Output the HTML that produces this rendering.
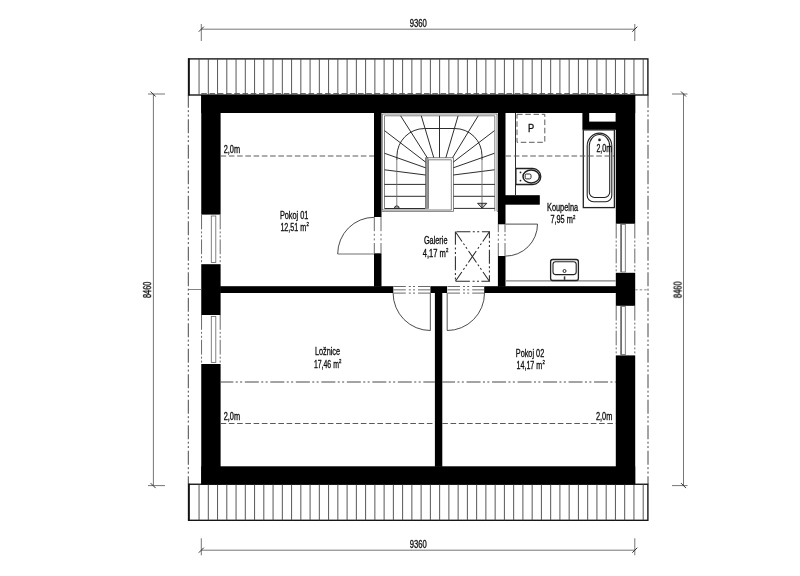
<!DOCTYPE html>
<html><head><meta charset="utf-8"><title>Floor plan</title>
<style>
html,body{margin:0;padding:0;background:#fff;}
body{width:800px;height:576px;overflow:hidden;font-family:"Liberation Sans",sans-serif;}
svg{display:block;}
svg text{font-family:"Liberation Sans",sans-serif;fill:#111;stroke:#111;stroke-width:0.34;}
#txt{opacity:0.999;}
.t{stroke:#333;stroke-width:1;fill:none;}
.s{stroke:#222;stroke-width:0.95;fill:none;}
.k{stroke:#222;stroke-width:1.3;}
.g{stroke:#6c6c6c;stroke-width:0.85;fill:none;}
.rf{stroke:#111;stroke-width:1.35;}
.rl{stroke:#444;stroke-width:0.9;}
.dash{stroke:#5a5a5a;stroke-width:1;stroke-dasharray:5.6 2.65;fill:none;}
.dash2{stroke:#666;stroke-width:0.8;stroke-dasharray:2.5 2;fill:none;}
.dd{stroke:#333;stroke-width:0.9;stroke-dasharray:14 2.4 2 2.4 2 2.7;stroke-dashoffset:1.25;fill:none;}
.ddx{stroke:#2a2a2a;stroke-width:1.05;stroke-dasharray:14 2.4 2 2.4 2 2.7;stroke-dashoffset:2.3;fill:none;}
.ddv{stroke:#555;stroke-width:0.8;stroke-dasharray:14 2.5 2.5 2.5;fill:none;}
.ddh{stroke:#555;stroke-width:0.8;stroke-dasharray:13 2 2 2 2 2;fill:none;}
.th{stroke:#6a6a6a;stroke-width:1;fill:none;}
.lf{stroke:#707070;stroke-width:1.2;fill:none;}
.arc{stroke:#2a2a2a;stroke-width:0.85;fill:none;}
.d{stroke:#666;stroke-width:0.9;}
.d2{stroke:#333;stroke-width:1;}
</style></head>
<body>
<svg width="800" height="576" viewBox="0 0 800 576">
<rect x="0" y="0" width="800" height="576" fill="#fff"/>
<g id="roof">
<rect x="188.7" y="58.9" width="459.20" height="36.10" fill="#fff" class="rf"/>
<line x1="188.80" y1="58.30" x2="188.80" y2="95.60" class="rf" style="stroke-width:1.9"/>
<line x1="199.05" y1="58.90" x2="199.05" y2="95.00" class="rl" />
<line x1="208.30" y1="58.90" x2="208.30" y2="95.00" class="rl" />
<line x1="217.56" y1="58.90" x2="217.56" y2="95.00" class="rl" />
<line x1="226.81" y1="58.90" x2="226.81" y2="95.00" class="rl" />
<line x1="236.06" y1="58.90" x2="236.06" y2="95.00" class="rl" />
<line x1="245.31" y1="58.90" x2="245.31" y2="95.00" class="rl" />
<line x1="254.57" y1="58.90" x2="254.57" y2="95.00" class="rl" />
<line x1="263.82" y1="58.90" x2="263.82" y2="95.00" class="rl" />
<line x1="273.07" y1="58.90" x2="273.07" y2="95.00" class="rl" />
<line x1="282.33" y1="58.90" x2="282.33" y2="95.00" class="rl" />
<line x1="291.58" y1="58.90" x2="291.58" y2="95.00" class="rl" />
<line x1="300.83" y1="58.90" x2="300.83" y2="95.00" class="rl" />
<line x1="310.09" y1="58.90" x2="310.09" y2="95.00" class="rl" />
<line x1="319.34" y1="58.90" x2="319.34" y2="95.00" class="rl" />
<line x1="328.59" y1="58.90" x2="328.59" y2="95.00" class="rl" />
<line x1="337.85" y1="58.90" x2="337.85" y2="95.00" class="rl" />
<line x1="347.10" y1="58.90" x2="347.10" y2="95.00" class="rl" />
<line x1="356.35" y1="58.90" x2="356.35" y2="95.00" class="rl" />
<line x1="365.60" y1="58.90" x2="365.60" y2="95.00" class="rl" />
<line x1="374.86" y1="58.90" x2="374.86" y2="95.00" class="rl" />
<line x1="384.11" y1="58.90" x2="384.11" y2="95.00" class="rl" />
<line x1="393.36" y1="58.90" x2="393.36" y2="95.00" class="rl" />
<line x1="402.62" y1="58.90" x2="402.62" y2="95.00" class="rl" />
<line x1="411.87" y1="58.90" x2="411.87" y2="95.00" class="rl" />
<line x1="421.12" y1="58.90" x2="421.12" y2="95.00" class="rl" />
<line x1="430.38" y1="58.90" x2="430.38" y2="95.00" class="rl" />
<line x1="439.63" y1="58.90" x2="439.63" y2="95.00" class="rl" />
<line x1="448.88" y1="58.90" x2="448.88" y2="95.00" class="rl" />
<line x1="458.13" y1="58.90" x2="458.13" y2="95.00" class="rl" />
<line x1="467.39" y1="58.90" x2="467.39" y2="95.00" class="rl" />
<line x1="476.64" y1="58.90" x2="476.64" y2="95.00" class="rl" />
<line x1="485.89" y1="58.90" x2="485.89" y2="95.00" class="rl" />
<line x1="495.15" y1="58.90" x2="495.15" y2="95.00" class="rl" />
<line x1="504.40" y1="58.90" x2="504.40" y2="95.00" class="rl" />
<line x1="513.65" y1="58.90" x2="513.65" y2="95.00" class="rl" />
<line x1="522.90" y1="58.90" x2="522.90" y2="95.00" class="rl" />
<line x1="532.16" y1="58.90" x2="532.16" y2="95.00" class="rl" />
<line x1="541.41" y1="58.90" x2="541.41" y2="95.00" class="rl" />
<line x1="550.66" y1="58.90" x2="550.66" y2="95.00" class="rl" />
<line x1="559.92" y1="58.90" x2="559.92" y2="95.00" class="rl" />
<line x1="569.17" y1="58.90" x2="569.17" y2="95.00" class="rl" />
<line x1="578.42" y1="58.90" x2="578.42" y2="95.00" class="rl" />
<line x1="587.68" y1="58.90" x2="587.68" y2="95.00" class="rl" />
<line x1="596.93" y1="58.90" x2="596.93" y2="95.00" class="rl" />
<line x1="606.18" y1="58.90" x2="606.18" y2="95.00" class="rl" />
<line x1="615.43" y1="58.90" x2="615.43" y2="95.00" class="rl" />
<line x1="624.69" y1="58.90" x2="624.69" y2="95.00" class="rl" />
<line x1="633.94" y1="58.90" x2="633.94" y2="95.00" class="rl" />
<line x1="643.19" y1="58.90" x2="643.19" y2="95.00" class="rl" />
<rect x="188.7" y="484.25" width="459.20" height="36.05" fill="#fff" class="rf"/>
<line x1="188.80" y1="483.65" x2="188.80" y2="520.90" class="rf" style="stroke-width:1.9"/>
<line x1="199.05" y1="484.25" x2="199.05" y2="520.30" class="rl" />
<line x1="208.30" y1="484.25" x2="208.30" y2="520.30" class="rl" />
<line x1="217.56" y1="484.25" x2="217.56" y2="520.30" class="rl" />
<line x1="226.81" y1="484.25" x2="226.81" y2="520.30" class="rl" />
<line x1="236.06" y1="484.25" x2="236.06" y2="520.30" class="rl" />
<line x1="245.31" y1="484.25" x2="245.31" y2="520.30" class="rl" />
<line x1="254.57" y1="484.25" x2="254.57" y2="520.30" class="rl" />
<line x1="263.82" y1="484.25" x2="263.82" y2="520.30" class="rl" />
<line x1="273.07" y1="484.25" x2="273.07" y2="520.30" class="rl" />
<line x1="282.33" y1="484.25" x2="282.33" y2="520.30" class="rl" />
<line x1="291.58" y1="484.25" x2="291.58" y2="520.30" class="rl" />
<line x1="300.83" y1="484.25" x2="300.83" y2="520.30" class="rl" />
<line x1="310.09" y1="484.25" x2="310.09" y2="520.30" class="rl" />
<line x1="319.34" y1="484.25" x2="319.34" y2="520.30" class="rl" />
<line x1="328.59" y1="484.25" x2="328.59" y2="520.30" class="rl" />
<line x1="337.85" y1="484.25" x2="337.85" y2="520.30" class="rl" />
<line x1="347.10" y1="484.25" x2="347.10" y2="520.30" class="rl" />
<line x1="356.35" y1="484.25" x2="356.35" y2="520.30" class="rl" />
<line x1="365.60" y1="484.25" x2="365.60" y2="520.30" class="rl" />
<line x1="374.86" y1="484.25" x2="374.86" y2="520.30" class="rl" />
<line x1="384.11" y1="484.25" x2="384.11" y2="520.30" class="rl" />
<line x1="393.36" y1="484.25" x2="393.36" y2="520.30" class="rl" />
<line x1="402.62" y1="484.25" x2="402.62" y2="520.30" class="rl" />
<line x1="411.87" y1="484.25" x2="411.87" y2="520.30" class="rl" />
<line x1="421.12" y1="484.25" x2="421.12" y2="520.30" class="rl" />
<line x1="430.38" y1="484.25" x2="430.38" y2="520.30" class="rl" />
<line x1="439.63" y1="484.25" x2="439.63" y2="520.30" class="rl" />
<line x1="448.88" y1="484.25" x2="448.88" y2="520.30" class="rl" />
<line x1="458.13" y1="484.25" x2="458.13" y2="520.30" class="rl" />
<line x1="467.39" y1="484.25" x2="467.39" y2="520.30" class="rl" />
<line x1="476.64" y1="484.25" x2="476.64" y2="520.30" class="rl" />
<line x1="485.89" y1="484.25" x2="485.89" y2="520.30" class="rl" />
<line x1="495.15" y1="484.25" x2="495.15" y2="520.30" class="rl" />
<line x1="504.40" y1="484.25" x2="504.40" y2="520.30" class="rl" />
<line x1="513.65" y1="484.25" x2="513.65" y2="520.30" class="rl" />
<line x1="522.90" y1="484.25" x2="522.90" y2="520.30" class="rl" />
<line x1="532.16" y1="484.25" x2="532.16" y2="520.30" class="rl" />
<line x1="541.41" y1="484.25" x2="541.41" y2="520.30" class="rl" />
<line x1="550.66" y1="484.25" x2="550.66" y2="520.30" class="rl" />
<line x1="559.92" y1="484.25" x2="559.92" y2="520.30" class="rl" />
<line x1="569.17" y1="484.25" x2="569.17" y2="520.30" class="rl" />
<line x1="578.42" y1="484.25" x2="578.42" y2="520.30" class="rl" />
<line x1="587.68" y1="484.25" x2="587.68" y2="520.30" class="rl" />
<line x1="596.93" y1="484.25" x2="596.93" y2="520.30" class="rl" />
<line x1="606.18" y1="484.25" x2="606.18" y2="520.30" class="rl" />
<line x1="615.43" y1="484.25" x2="615.43" y2="520.30" class="rl" />
<line x1="624.69" y1="484.25" x2="624.69" y2="520.30" class="rl" />
<line x1="633.94" y1="484.25" x2="633.94" y2="520.30" class="rl" />
<line x1="643.19" y1="484.25" x2="643.19" y2="520.30" class="rl" />
</g>
<line x1="201.25" y1="93.60" x2="635.20" y2="93.60" class="dash" />
<g id="walls">
<rect x="201.25" y="95.00" width="433.95" height="18.00" fill="#000" />
<rect x="201.25" y="466.30" width="433.95" height="17.95" fill="#000" />
<rect x="201.25" y="95.00" width="19.35" height="119.60" fill="#000" />
<rect x="201.25" y="264.20" width="19.35" height="50.80" fill="#000" />
<rect x="201.25" y="364.00" width="19.35" height="120.25" fill="#000" />
<rect x="615.80" y="95.00" width="19.40" height="128.75" fill="#000" />
<rect x="615.80" y="272.80" width="19.40" height="33.00" fill="#000" />
<rect x="615.80" y="355.40" width="19.40" height="128.85" fill="#000" />
<rect x="220.10" y="286.20" width="173.20" height="6.80" fill="#000" />
<rect x="430.40" y="286.20" width="16.70" height="6.80" fill="#000" />
<rect x="484.20" y="286.20" width="132.10" height="6.80" fill="#000" />
<rect x="434.90" y="292.50" width="7.40" height="174.30" fill="#000" />
<rect x="374.00" y="112.50" width="7.50" height="104.50" fill="#000" />
<rect x="374.00" y="253.30" width="7.50" height="33.40" fill="#000" />
<rect x="497.90" y="112.50" width="7.60" height="111.80" fill="#000" />
<rect x="497.90" y="256.00" width="7.60" height="30.70" fill="#000" />
<rect x="505.00" y="195.20" width="34.80" height="9.50" fill="#000" />
<rect x="582.40" y="112.50" width="33.90" height="17.30" fill="#000" />
<rect x="589.20" y="113.00" width="26.40" height="8.60" fill="#fff" />
</g>
<g id="stairs">
<path d="M382.3,210.0 V114.0 H497.0 V211.3 H498.0" class="g" />
<path d="M384.5,208.5 V115.8 H494.8 V211.3" class="g" />
<line x1="381.50" y1="210.00" x2="451.40" y2="210.00" class="g" />
<line x1="381.50" y1="211.40" x2="453.60" y2="211.40" class="g" />
<line x1="384.50" y1="208.50" x2="425.60" y2="208.50" class="s" />
<line x1="453.60" y1="208.40" x2="494.80" y2="208.40" class="s" />
<rect x="425.40" y="157.60" width="3.10" height="51.40" fill="#999" />
<path d="M425.6,208.5 V157.7 H453.5 V211.4" class="g" />
<path d="M428.4,208.5 V159.8 H451.3 V210.0" class="g" />
<line x1="384.50" y1="196.30" x2="425.60" y2="196.30" class="s" />
<line x1="384.50" y1="184.40" x2="425.60" y2="184.40" class="s" />
<line x1="453.50" y1="196.30" x2="494.80" y2="196.30" class="s" />
<line x1="453.50" y1="184.40" x2="494.80" y2="184.40" class="s" />
<line x1="425.60" y1="175.00" x2="384.60" y2="169.80" class="s" />
<line x1="425.60" y1="167.80" x2="384.60" y2="153.30" class="s" />
<line x1="425.60" y1="162.10" x2="384.60" y2="130.70" class="s" />
<line x1="427.20" y1="157.60" x2="400.60" y2="115.80" class="s" />
<line x1="433.75" y1="157.60" x2="421.25" y2="115.80" class="s" />
<line x1="439.50" y1="157.60" x2="439.50" y2="115.80" class="s" />
<line x1="445.90" y1="157.60" x2="458.10" y2="115.80" class="s" />
<line x1="452.60" y1="157.60" x2="478.20" y2="115.80" class="s" />
<line x1="453.30" y1="162.10" x2="494.40" y2="130.70" class="s" />
<line x1="453.30" y1="167.80" x2="494.40" y2="153.30" class="s" />
<line x1="453.30" y1="175.00" x2="494.40" y2="169.80" class="s" />
<path d="M396.9,160 V156.2 A27.7,27.7 0 0 1 424.6,128.5 H454.8 A27.2,27.2 0 0 1 482.0,155.7 V160" class="s" />
<line x1="396.80" y1="160.00" x2="396.80" y2="206.00" class="g" />
<line x1="482.00" y1="160.00" x2="482.00" y2="203.20" class="g" />
<path d="M394.4,208.3 A2.4,2.4 0 0 1 399.2,208.3 Z" class="s" style="fill:#bbb"/>
<path d="M477.6,203.3 H486.8 L482.2,208.2 Z" class="s" style="fill:#ccc"/>
<line x1="482.00" y1="203.20" x2="482.00" y2="208.00" class="s" />
</g>
<g id="bath">
<line x1="515.50" y1="113.00" x2="515.50" y2="195.20" class="s" />
<rect x="517.0" y="114.3" width="27.8" height="28.0" class="dash" fill="none"/>
<path d="M515.9,168.5 H532.8 A8,8 0 0 1 532.8,184.5 H515.9 Z" class="k" fill="#fff"/>
<ellipse cx="531.2" cy="176.4" rx="8.2" ry="6.5" fill="none" stroke="#222" stroke-width="1.5"/>
<rect x="525.2" y="174.0" width="5.8" height="4.9" rx="1.4" class="s" fill="none"/>
<circle cx="520.5" cy="172.4" r="0.9" fill="#222"/><circle cx="520.5" cy="180.6" r="0.9" fill="#222"/>
<rect x="583.3" y="129.9" width="31.1" height="77.7" class="k" fill="#fff"/>
<path d="M587.2,146 A12.3,12.9 0 0 1 611.8,146 V195.5 A6.2,6.2 0 0 1 605.6,201.7 H593.4 A6.2,6.2 0 0 1 587.2,195.5 Z" class="s" style="stroke-width:1.1"/>
<path d="M589.3,146 A10.2,11.5 0 0 1 609.7,146 V192.3 A5.2,5.2 0 0 1 604.5,197.5 H594.5 A5.2,5.2 0 0 1 589.3,192.3 Z" class="s" style="stroke-width:1.1"/>
<circle cx="599.5" cy="139.9" r="1.35" fill="#222"/>
<line x1="505.50" y1="280.80" x2="615.80" y2="280.80" class="g" style="stroke-width:1.3;stroke:#808080"/>
<rect x="550.6" y="259.5" width="27.8" height="21.0" rx="2.2" class="k" fill="#fff"/>
<rect x="553.0" y="261.7" width="23.2" height="12.9" rx="2.5" class="s" fill="none" style="stroke-width:1.1"/>
<circle cx="564.5" cy="271.0" r="1.5" class="s" fill="none"/>
<rect x="563.80" y="276.40" width="1.50" height="3.40" fill="#333" />
</g>
<line x1="220.60" y1="156.00" x2="374.00" y2="156.00" class="dash" />
<line x1="505.50" y1="156.00" x2="614.00" y2="156.00" class="dash" />
<line x1="220.60" y1="423.50" x2="434.90" y2="423.50" class="dash" />
<line x1="442.30" y1="423.50" x2="615.80" y2="423.50" class="dash" />
<line x1="220.60" y1="382.00" x2="434.90" y2="382.00" class="dd" />
<line x1="442.30" y1="382.00" x2="615.80" y2="382.00" class="dd" />
<line x1="188.30" y1="95.00" x2="188.30" y2="484.20" class="dd" />
<line x1="648.00" y1="95.00" x2="648.00" y2="484.20" class="dd" />
<line x1="188.30" y1="289.50" x2="201.25" y2="289.50" class="g" />
<line x1="635.20" y1="289.80" x2="647.70" y2="289.80" class="dash2" />
<rect x="455.4" y="231.8" width="34.0" height="49.5" class="ddx" style="stroke-dashoffset:-1" fill="none"/>
<line x1="455.40" y1="231.80" x2="489.40" y2="281.30" class="ddx" />
<line x1="489.40" y1="231.80" x2="455.40" y2="281.30" class="ddx" />
<path d="M337.7,254.0 H374.0" class="lf" />
<path d="M337.7,254.0 A36.5,36.7 0 0 1 374.2,217.3" class="arc" />
<line x1="374.30" y1="217.00" x2="374.30" y2="253.30" class="th" stroke-dasharray="14.2 2.6 2 2.6 2 2.6 20"/>
<line x1="381.00" y1="217.00" x2="381.00" y2="253.30" class="th" stroke-dasharray="14.2 2.6 2 2.6 2 2.6 20"/>
<path d="M505.5,224.1 H537.5" class="lf" />
<path d="M537.5,224.1 A32,32 0 0 1 505.5,256.1" class="arc" />
<line x1="498.30" y1="224.00" x2="498.30" y2="256.10" class="th" stroke-dasharray="8.2 1.8 2 2.7 2 2.3 20"/>
<line x1="505.00" y1="224.00" x2="505.00" y2="256.10" class="th" stroke-dasharray="8.2 1.8 2 2.7 2 2.3 20"/>
<path d="M430.4,293.0 V330.5" class="lf" />
<path d="M393.1,293.0 A37.3,37.5 0 0 0 430.4,330.5" class="arc" />
<line x1="393.30" y1="286.50" x2="430.00" y2="286.50" class="th" stroke-dasharray="12.5 3 2 2.2 2 3 20"/>
<line x1="393.30" y1="289.85" x2="430.00" y2="289.85" class="th" stroke-dasharray="12.5 3 2 2.2 2 3 20"/>
<line x1="393.30" y1="293.10" x2="430.00" y2="293.10" class="th" stroke-dasharray="12.5 3 2 2.2 2 3 20"/>
<path d="M447.2,293.0 V330.5" class="lf" />
<path d="M484.5,293.0 A37.3,37.5 0 0 1 447.2,330.5" class="arc" />
<line x1="447.50" y1="286.50" x2="484.20" y2="286.50" class="th" stroke-dasharray="12.5 3 2 2.2 2 3 20"/>
<line x1="447.50" y1="289.85" x2="484.20" y2="289.85" class="th" stroke-dasharray="12.5 3 2 2.2 2 3 20"/>
<line x1="447.50" y1="293.10" x2="484.20" y2="293.10" class="th" stroke-dasharray="12.5 3 2 2.2 2 3 20"/>
<line x1="201.55" y1="214.60" x2="201.55" y2="264.10" class="th" stroke-dasharray="14.8 2 2 2 2 2"/>
<line x1="220.20" y1="214.60" x2="220.20" y2="264.10" class="th" stroke-dasharray="14.8 2 2 2 2 2"/>
<rect x="211.3" y="216.0" width="4.5" height="46.50" class="g" fill="#fff"/>
<line x1="201.55" y1="315.00" x2="201.55" y2="364.00" class="th" stroke-dasharray="14.8 2 2 2 2 2"/>
<line x1="220.20" y1="315.00" x2="220.20" y2="364.00" class="th" stroke-dasharray="14.8 2 2 2 2 2"/>
<rect x="211.3" y="316.4" width="4.5" height="46.00" class="g" fill="#fff"/>
<line x1="616.20" y1="223.75" x2="616.20" y2="272.80" class="th" stroke-dasharray="14.8 2 2 2 2 2"/>
<line x1="634.80" y1="223.75" x2="634.80" y2="272.80" class="th" stroke-dasharray="14.8 2 2 2 2 2"/>
<rect x="620.9" y="224.35" width="4.4" height="47.65" class="g" fill="#fff"/>
<line x1="621.20" y1="224.35" x2="621.20" y2="272.00" class="g" style="stroke-width:1.5"/>
<line x1="616.20" y1="305.80" x2="616.20" y2="355.40" class="th" stroke-dasharray="14.8 2 2 2 2 2"/>
<line x1="634.80" y1="305.80" x2="634.80" y2="355.40" class="th" stroke-dasharray="14.8 2 2 2 2 2"/>
<rect x="620.9" y="306.40000000000003" width="4.4" height="48.20" class="g" fill="#fff"/>
<line x1="621.20" y1="306.40" x2="621.20" y2="354.60" class="g" style="stroke-width:1.5"/>
<g id="dims">
<line x1="201.30" y1="29.20" x2="634.80" y2="29.20" class="d" />
<line x1="201.30" y1="550.20" x2="634.80" y2="550.20" class="d" />
<line x1="201.30" y1="24.00" x2="201.30" y2="41.00" class="d" />
<line x1="198.80" y1="31.70" x2="203.80" y2="26.70" class="d2" />
<line x1="201.30" y1="538.30" x2="201.30" y2="555.30" class="d" />
<line x1="198.80" y1="552.70" x2="203.80" y2="547.70" class="d2" />
<line x1="634.80" y1="24.00" x2="634.80" y2="41.00" class="d" />
<line x1="632.30" y1="31.70" x2="637.30" y2="26.70" class="d2" />
<line x1="634.80" y1="538.30" x2="634.80" y2="555.30" class="d" />
<line x1="632.30" y1="552.70" x2="637.30" y2="547.70" class="d2" />
<line x1="153.40" y1="94.00" x2="153.40" y2="485.60" class="d" />
<line x1="683.50" y1="94.00" x2="683.50" y2="485.60" class="d" />
<line x1="148.00" y1="94.00" x2="165.00" y2="94.00" class="d" />
<line x1="150.60" y1="91.50" x2="155.60" y2="96.50" class="d2" />
<line x1="672.00" y1="94.00" x2="687.50" y2="94.00" class="d" />
<line x1="681.00" y1="91.50" x2="686.00" y2="96.50" class="d2" />
<line x1="148.00" y1="485.60" x2="165.00" y2="485.60" class="d" />
<line x1="150.60" y1="483.10" x2="155.60" y2="488.10" class="d2" />
<line x1="672.00" y1="485.60" x2="687.50" y2="485.60" class="d" />
<line x1="681.00" y1="483.10" x2="686.00" y2="488.10" class="d2" />
</g>
<g id="txt">
<text x="279.90" y="218.70" font-size="10.4" textLength="28.50" lengthAdjust="spacingAndGlyphs" >Pokoj 01</text>
<text x="280.40" y="230.60" font-size="10.4" textLength="25.80" lengthAdjust="spacingAndGlyphs" >12,51 m</text>
<text x="306.40" y="226.00" font-size="5.6" textLength="2.40" lengthAdjust="spacingAndGlyphs">2</text>
<text x="423.90" y="244.40" font-size="10.4" textLength="23.60" lengthAdjust="spacingAndGlyphs" >Galerie</text>
<text x="422.80" y="256.50" font-size="10.4" textLength="23.10" lengthAdjust="spacingAndGlyphs" >4,17 m</text>
<text x="446.10" y="251.90" font-size="5.6" textLength="2.40" lengthAdjust="spacingAndGlyphs">2</text>
<text x="547.00" y="210.70" font-size="10.4" textLength="31.10" lengthAdjust="spacingAndGlyphs" >Koupelna</text>
<text x="550.40" y="223.40" font-size="10.4" textLength="22.40" lengthAdjust="spacingAndGlyphs" >7,95 m</text>
<text x="573.00" y="218.80" font-size="5.6" textLength="2.40" lengthAdjust="spacingAndGlyphs">2</text>
<text x="314.90" y="354.60" font-size="10.4" textLength="25.20" lengthAdjust="spacingAndGlyphs" >Ložnice</text>
<text x="313.90" y="367.70" font-size="10.4" textLength="25.00" lengthAdjust="spacingAndGlyphs" >17,46 m</text>
<text x="339.10" y="363.10" font-size="5.6" textLength="2.40" lengthAdjust="spacingAndGlyphs">2</text>
<text x="515.80" y="356.50" font-size="10.4" textLength="28.40" lengthAdjust="spacingAndGlyphs" >Pokoj 02</text>
<text x="516.50" y="368.50" font-size="10.4" textLength="25.70" lengthAdjust="spacingAndGlyphs" >14,17 m</text>
<text x="542.40" y="363.90" font-size="5.6" textLength="2.40" lengthAdjust="spacingAndGlyphs">2</text>
<text x="223.70" y="152.70" font-size="10.4" textLength="16.40" lengthAdjust="spacingAndGlyphs" >2,0m</text>
<text x="596.40" y="152.20" font-size="10.4" textLength="15.70" lengthAdjust="spacingAndGlyphs" >2,0m</text>
<text x="223.70" y="419.60" font-size="10.4" textLength="16.40" lengthAdjust="spacingAndGlyphs" >2,0m</text>
<text x="595.90" y="419.80" font-size="10.4" textLength="16.40" lengthAdjust="spacingAndGlyphs" >2,0m</text>
<text x="527.90" y="131.80" font-size="11.0" textLength="6.20" lengthAdjust="spacingAndGlyphs" >P</text>
<text x="409.80" y="26.80" font-size="10.3" textLength="17.10" lengthAdjust="spacingAndGlyphs" >9360</text>
<text x="409.80" y="548.20" font-size="10.3" textLength="17.00" lengthAdjust="spacingAndGlyphs" >9360</text>
<text transform="translate(151.10,298.00) rotate(-90)" x="0" y="0" font-size="10.2" textLength="16.40" lengthAdjust="spacingAndGlyphs">8460</text>
<text transform="translate(681.60,298.10) rotate(-90)" x="0" y="0" font-size="10.2" textLength="16.60" lengthAdjust="spacingAndGlyphs">8460</text>
</g>
</svg>
</body></html>
